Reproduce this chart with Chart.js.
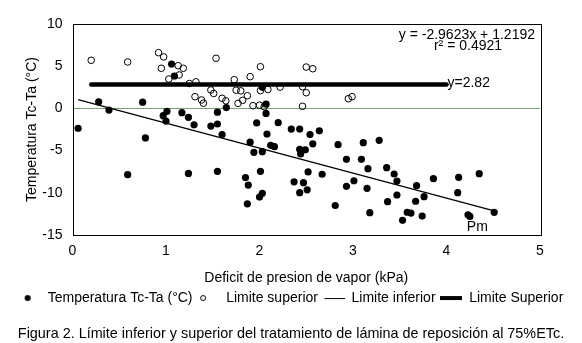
<!DOCTYPE html>
<html>
<head>
<meta charset="utf-8">
<script src="https://cdn.jsdelivr.net/npm/chart.js@4/dist/chart.umd.min.js"></script>
<style>
html, body { margin: 0; padding: 0; background: #fff; }
#wrap { width: 582px; height: 343px; }
</style>
</head>
<body>
<div id="wrap"><canvas id="chart_tcta_75" width="582" height="343"></canvas></div>
<script>
// Temperatura Tc-Ta (°C), filled points
var tempX = [0.06, 0.28, 0.39, 0.59, 0.75, 0.78, 0.97, 1.01, 1.00, 1.06, 1.09, 1.17, 1.24, 1.30, 1.24,
  1.48, 1.55, 1.55, 1.55, 1.60, 1.645, 1.85, 1.88, 1.87, 1.90, 1.94, 1.97, 2.01, 2.03, 2.03, 2.00,
  2.03, 2.07, 2.07, 2.08, 2.12, 2.16, 2.20, 2.34, 2.37, 2.43, 2.43, 2.49, 2.44, 2.43, 2.47, 2.51,
  2.54, 2.52, 2.57, 2.64, 2.67, 2.81, 2.84, 2.93, 2.93, 3.01, 3.09, 3.11, 3.16, 3.15, 3.18, 3.28,
  3.36, 3.44, 3.47, 3.47, 3.37, 3.53, 3.58, 3.62, 3.68, 3.67, 3.76, 3.74, 3.86, 4.13, 4.35, 4.12,
  4.23, 4.25, 4.51];
var tempY = [-2.35, 0.78, -0.2, -7.85, 0.74, -3.5, -0.86, -0.35, -1.5, 5.26, 3.84, -0.5, -1.06, -1.95, -7.7,
  -2.09, -1.85, -0.45, -7.45, -3.1, 0.1, -8.2, -9.08, -11.3, -4.0, -5.2, -1.72, -7.45, -5.13, -10.06, -10.5,
  2.5, 0.5, -0.6, -3.03, -4.37, -4.53, -1.69, -2.45, -8.7, -2.44, -4.85, -4.9, -5.4, -9.98, -8.8, -9.65,
  -3.1, -7.52, -4.2, -2.66, -7.8, -11.5, -4.3, -6.03, -9.23, -8.57, -6.03, -4.06, -7.14, -9.47, -12.35, -3.78,
  -7.02, -7.77, -8.6, -10.26, -11.05, -13.26, -12.3, -12.4, -9.15, -11.0, -10.46, -12.75, -8.33, -8.17, -7.73, -9.98,
  -12.6, -12.8, -12.31];

// Limite superior, open circles
var supX = [0.20, 0.59, 0.92, 0.975, 0.95, 1.03, 1.13, 1.185, 1.14, 1.25, 1.32, 1.31, 1.38, 1.40, 1.48,
  1.51, 1.535, 1.60, 1.64, 1.73, 1.75, 1.80, 1.87, 1.82, 1.77, 1.90, 1.93, 2.00, 2.01, 2.01, 2.09,
  2.05, 2.22, 2.46, 2.50, 2.57, 2.50, 2.46, 2.95, 2.99];
var supY = [5.7, 5.5, 6.6, 6.1, 4.75, 3.48, 5.06, 4.75, 3.96, 2.95, 3.15, 1.39, 1.0, 0.62, 2.18,
  1.77, 5.94, 1.2, 0.9, 3.4, 2.16, 2.08, 1.5, 0.96, 0.6, 3.76, 0.32, 0.38, 4.94, 2.1, 2.24,
  0.2, 2.52, 2.57, 4.9, 4.7, 1.86, 0.25, 1.15, 1.39];

// Limite inferior (regression line ends) and Limite Superior (y = 2.82)
var infX = [0.06, 4.51];
var infY = [1.04, -12.14];
var topX = [0.2, 4.0];
var topY = [2.82, 2.82];

var xTicks = [0, 1, 2, 3, 4, 5];
var yTicks = [-15, -10, -5, 0, 5, 10];

var FONT = "'Liberation Sans', Arial, sans-serif";

function pairs(xs, ys) {
  return xs.map(function (x, i) { return { x: x, y: ys[i] }; });
}

// small legend symbols, 22px wide
function legendIcon(kind) {
  var c = document.createElement('canvas');
  c.width = 22;
  c.height = 12;
  var g = c.getContext('2d');
  g.strokeStyle = '#000';
  g.fillStyle = '#000';
  if (kind === 'dot') {
    g.beginPath(); g.arc(9, 6, 3, 0, Math.PI * 2); g.fill();
  } else if (kind === 'ring') {
    g.lineWidth = 1;
    g.beginPath(); g.arc(6, 6, 2.5, 0, Math.PI * 2); g.stroke();
  } else if (kind === 'thin') {
    g.fillRect(2, 6, 20, 1);
  } else {
    g.fillRect(0, 4, 22, 4);
  }
  return c;
}

var legendNames = ['Temperatura Tc-Ta (°C)', 'Limite superior', 'Limite inferior', 'Limite Superior'];
var legendKinds = ['dot', 'ring', 'thin', 'thick'];

var chart_tcta_75 = new Chart(document.getElementById('chart_tcta_75'), {
  type: 'scatter',
  data: {
    datasets: [
      {
        label: legendNames[0],
        data: pairs(tempX, tempY),
        pointRadius: 3.6,
        pointBackgroundColor: '#000',
        pointBorderWidth: 0,
        order: 2
      },
      {
        label: legendNames[1],
        data: pairs(supX, supY),
        pointRadius: 3.3,
        pointBackgroundColor: 'rgba(0,0,0,0)',
        pointBorderColor: '#000',
        pointBorderWidth: 1,
        order: 3
      },
      {
        label: legendNames[2],
        type: 'line',
        data: pairs(infX, infY),
        borderColor: '#000',
        borderWidth: 1.3,
        pointRadius: 0,
        fill: false,
        order: 4
      },
      {
        label: legendNames[3],
        type: 'line',
        data: pairs(topX, topY),
        borderColor: '#000',
        borderWidth: 4.5,
        borderCapStyle: 'round',
        pointRadius: 0,
        fill: false,
        order: 1
      }
    ]
  },
  options: {
    animation: false,
    responsive: false,
    events: [],
    layout: { padding: { left: 0, right: 0, top: 24, bottom: 0 } },
    plugins: {
      tooltip: { enabled: false },
      legend: {
        position: 'bottom',
        labels: {
          usePointStyle: true,
          pointStyleWidth: 22,
          padding: 4.6,
          color: '#000',
          font: { family: FONT, size: 14 },
          generateLabels: function () {
            return legendNames.map(function (n, i) {
              return {
                text: n,
                pointStyle: legendIcon(legendKinds[i]),
                fillStyle: '#000',
                strokeStyle: '#000',
                lineWidth: 0,
                fontColor: '#000',
                hidden: false,
                datasetIndex: i
              };
            });
          }
        }
      },
      title: {
        display: true,
        position: 'bottom',
        text: 'Figura 2. Límite inferior y superior del tratamiento de lámina de reposición al 75%ETc.',
        color: '#000',
        font: { family: FONT, size: 14.4, weight: 'normal' },
        padding: { top: 10.7, bottom: 0 }
      }
    },
    scales: {
      x: {
        type: 'linear',
        min: 0,
        max: 5,
        afterFit: function (s) { s.height = 51.4; },
        afterBuildTicks: function (s) { s.ticks = xTicks.map(function (v) { return { value: v }; }); },
        ticks: { color: '#000', font: { family: FONT, size: 14 }, padding: 8 },
        grid: { display: false, drawTicks: false },
        border: { display: false },
        title: {
          display: true,
          text: 'Deficit de presion de vapor (kPa)',
          color: '#000',
          font: { family: FONT, size: 14 },
          padding: 0
        }
      },
      y: {
        type: 'linear',
        min: -15,
        max: 10,
        afterFit: function (s) { s.width = 72.5; },
        afterBuildTicks: function (s) { s.ticks = yTicks.map(function (v) { return { value: v }; }); },
        ticks: { color: '#000', font: { family: FONT, size: 14 }, padding: 10 },
        grid: {
          drawTicks: false,
          lineWidth: 1,
          color: function (ctx) { return ctx.tick && ctx.tick.value === 0 ? '#72a672' : 'rgba(0,0,0,0)'; }
        },
        border: { display: false },
        title: {
          display: true,
          text: 'Temperatura Tc-Ta (°C)',
          color: '#000',
          font: { family: FONT, size: 14 },
          padding: { top: 24, bottom: 24 }
        }
      },
      yRight: {
        type: 'linear',
        position: 'right',
        min: -15,
        max: 10,
        afterFit: function (s) { s.width = 42; },
        ticks: { display: false },
        grid: { display: false, drawTicks: false },
        border: { display: false }
      }
    }
  },
  plugins: [{
    id: 'frameAndNotes',
    beforeDraw: function (chart) {
      var ctx = chart.ctx;
      ctx.save();
      ctx.fillStyle = '#fff';
      ctx.fillRect(0, 0, chart.width, chart.height);
      ctx.restore();
    },
    afterDraw: function (chart) {
      var ctx = chart.ctx;
      var a = chart.chartArea;
      var xs = chart.scales.x, ys = chart.scales.y;
      ctx.save();
      ctx.strokeStyle = '#000';
      ctx.lineWidth = 1;
      ctx.strokeRect(Math.round(a.left) + 0.5, Math.round(a.top) + 0.5,
        Math.round(a.right - a.left), Math.round(a.bottom - a.top));
      ctx.fillStyle = '#000';
      ctx.font = '14px ' + FONT;
      ctx.textBaseline = 'middle';
      ctx.textAlign = 'right';
      ctx.fillText('y = -2.9623x + 1.2192', a.right - 5, a.top + 11);
      ctx.textAlign = 'center';
      ctx.fillText('r² = 0.4921', a.right - 72, a.top + 22);
      ctx.textAlign = 'left';
      ctx.fillText('y=2.82', xs.getPixelForValue(topX[1]) + 1, ys.getPixelForValue(topY[1]) - 1);
      ctx.textAlign = 'center';
      ctx.fillText('Pm', xs.getPixelForValue(4.33), ys.getPixelForValue(-14.1));
      ctx.restore();
    }
  }]
});
</script>
</body>
</html>
